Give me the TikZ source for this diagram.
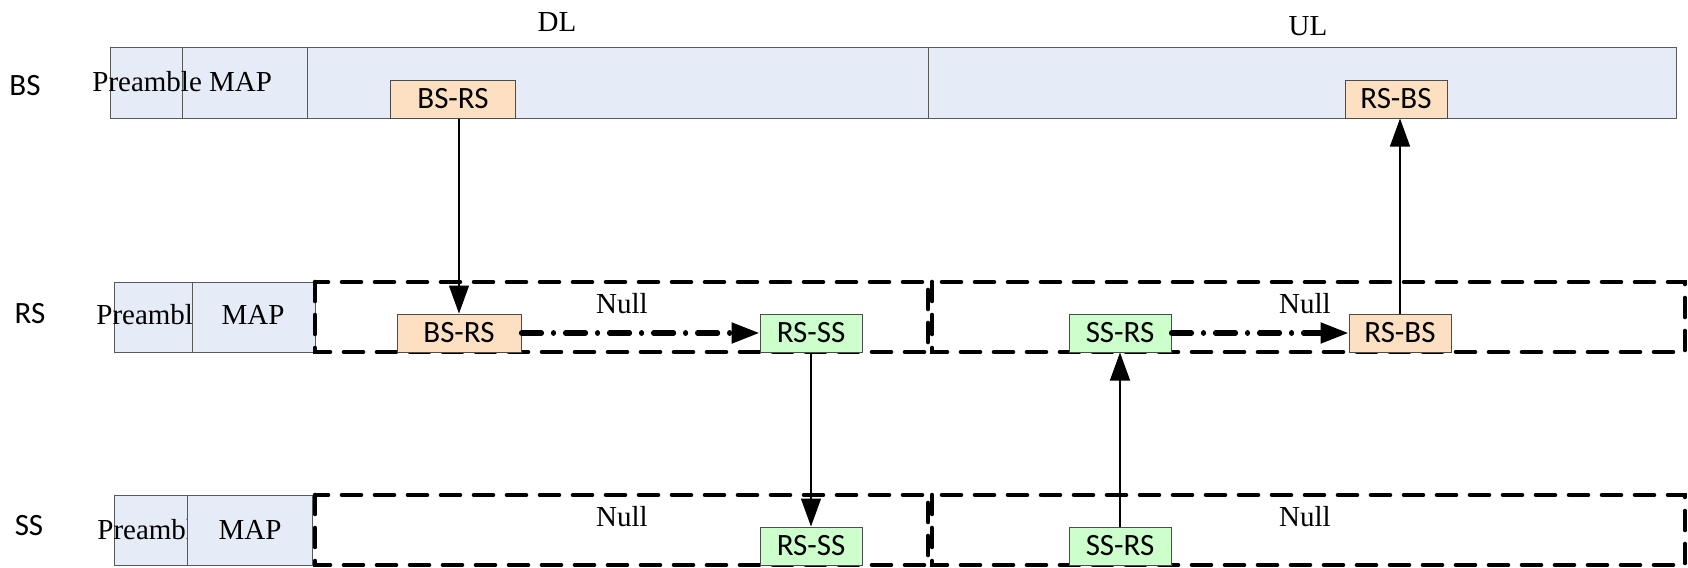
\documentclass[tikz,border=0pt]{standalone}
\usepackage{fontspec}
\setmainfont{Liberation Serif}
\newfontfamily\sansfont{Carlito}
\usepackage{xcolor}
\usepackage{tikz}
\usetikzlibrary{positioning, arrows.meta}

\definecolor{fondbleu}{HTML}{E6ECF7}
\definecolor{peche}{HTML}{FDE0C2}
\definecolor{vertclair}{HTML}{CCFFCC}

\tikzset{
  bloc/.style={draw=black!65, line width=0.5pt, fill=fondbleu},
  paquet/.style={draw=black!70, line width=0.5pt, inner sep=0pt, minimum height=19pt,
    minimum width=51pt, font=\sansfont\fontsize{15.5}{15.5}\selectfont},
  relais/.style={paquet, fill=peche},
  mobile/.style={paquet, fill=vertclair},
  zone/.style={line width=2.3pt, dash pattern=on 9.5pt off 7pt, line cap=round},
  saut/.style={->, line width=2.6pt, dash pattern=on 10pt off 6pt on 0.01pt off 6pt, line cap=round},
  lien/.style={->, line width=0.6pt},
  texte/.style={inner sep=0pt, font=\fontsize{14.5}{14.5}\selectfont},
  station/.style={inner sep=0pt, font=\sansfont\fontsize{15.5}{15.5}\selectfont}
}

\begin{document}
\begin{tikzpicture}[x=0.5pt, y=-0.5pt, >={Triangle[length=14pt, width=10pt]}]

        \useasboundingbox (0,0) rectangle (1688,568);

        % Titres
        \node [texte] (dl) at (557,22) {DL};
        \node [texte] (ul) at (1308,26) {UL};

        % Ligne BS
        \node [station] (bs) at (25,86) {BS};
        \draw [bloc] (110,47) rectangle (1676,118);
        \draw [bloc] (110,47) rectangle (182,118);
        \draw [bloc] (182,47) rectangle (307,118);
        \draw [draw=black!65, line width=0.5pt] (928,47) -- (928,118);
        \node [texte, anchor=west] (pm) at (92,82) {Preamble MAP};
        \node [relais, minimum width=62.5pt] (A) at (453,99) {BS-RS};
        \node [relais] (F) at (1396,99) {RS-BS};

        % Ligne RS
        \node [station] (rs) at (30,314) {RS};
        \draw [bloc] (114,282) rectangle (192,352);
        \node [texte, anchor=west] (prs) at (96,315) {Preamble};
        \draw [bloc] (192,282) rectangle (315,352);
        \node [texte] (mrs) at (253,315) {MAP};
        \draw [zone] (315,282) rectangle (928,352);
        \draw [zone] (932,282) rectangle (1685,352);
        \node [texte] (n1) at (622,304) {Null};
        \node [texte] (n2) at (1305,304) {Null};
        \node [relais, minimum width=62pt] (B) at (459,333) {BS-RS};
        \node [mobile] (C) at (811,333) {RS-SS};
        \node [mobile] (D) at (1120,333) {SS-RS};
        \node [relais] (E) at (1400,333) {RS-BS};

        % Ligne SS
        \node [station] (ss) at (29,526) {SS};
        \draw [bloc] (114,495) rectangle (187,565);
        \node [texte, anchor=west] (pss) at (97,530) {Preamble};
        \draw [bloc] (187,495) rectangle (312,565);
        \node [texte] (mss) at (250,530) {MAP};
        \draw [zone] (315,495) rectangle (928,565);
        \draw [zone] (932,495) rectangle (1685,565);
        \node [texte] (n3) at (622,517) {Null};
        \node [texte] (n4) at (1305,517) {Null};
        \node [mobile] (G) at (811,546) {RS-SS};
        \node [mobile] (H) at (1120,546) {SS-RS};

        % Flèches
        \draw [lien] (A.south -| B) -- (B);
        \draw [saut] (B) -- (C);
        \draw [lien] (C) -- (G);
        \draw [lien] (H) -- (D);
        \draw [saut] (D) -- (E);
        \draw [lien] (E) -- (E |- F.south);

    \end{tikzpicture}
\end{document}
